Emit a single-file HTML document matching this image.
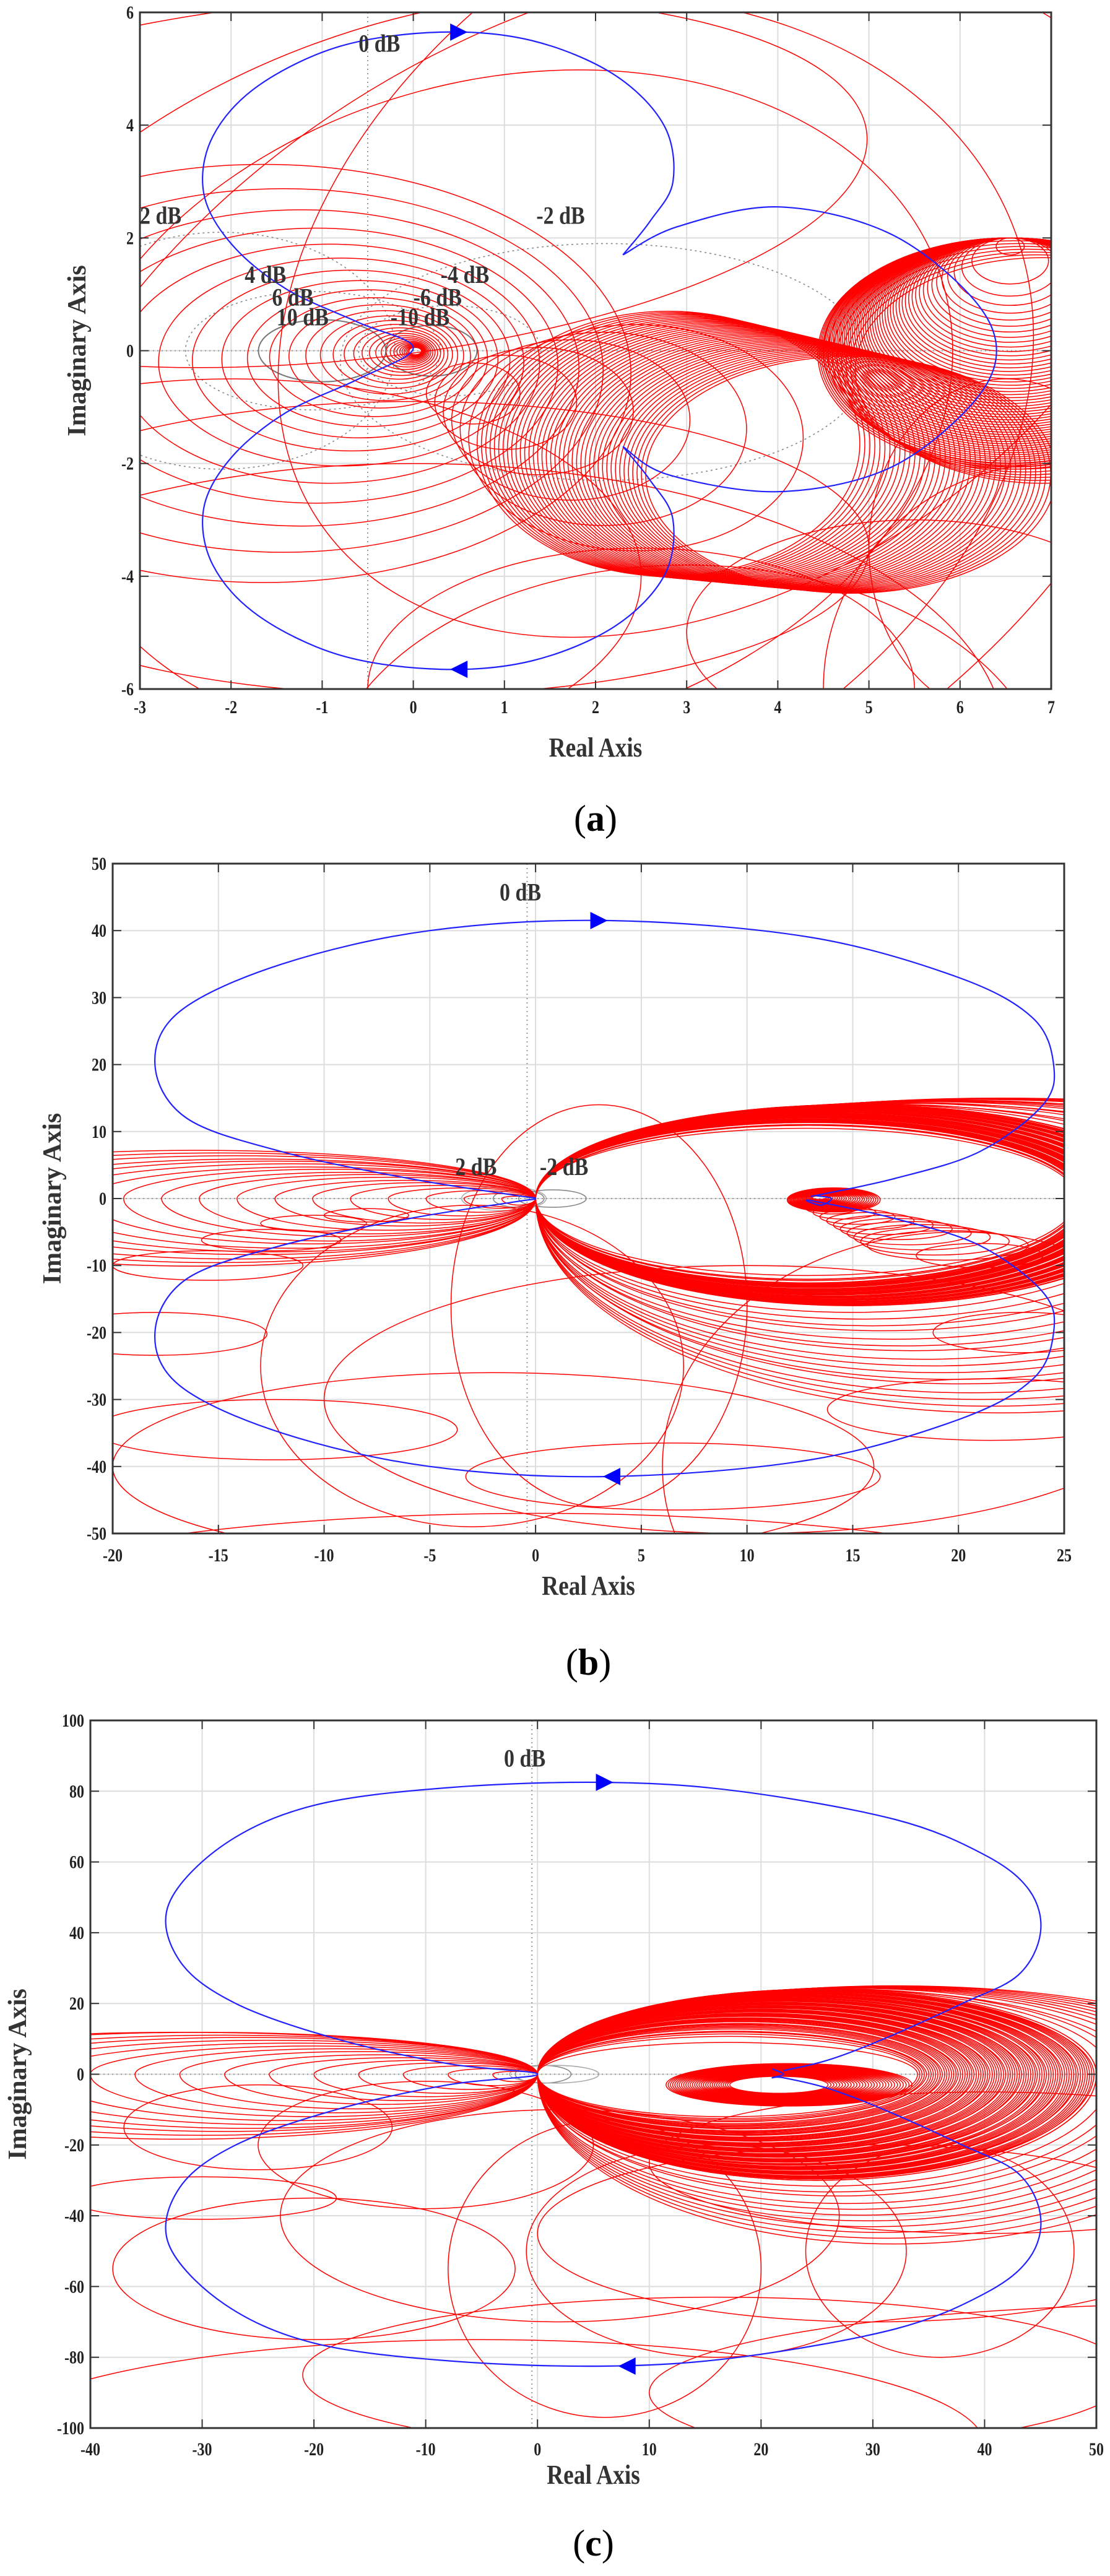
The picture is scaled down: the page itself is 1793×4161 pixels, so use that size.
<!DOCTYPE html>
<html><head><meta charset="utf-8">
<style>
html,body{margin:0;padding:0;background:#fff;}
svg{display:block;}
</style></head>
<body>
<svg id="s" xmlns="http://www.w3.org/2000/svg" width="1793" height="4161" viewBox="0 0 1793 4161"></svg>
<script>
const S=document.getElementById('s');
let out='';
function smooth(pts){
  let d='M'+pts[0][0].toFixed(1)+','+pts[0][1].toFixed(1);
  for(let i=0;i<pts.length-1;i++){
    const p0=pts[Math.max(0,i-1)],p1=pts[i],p2=pts[i+1],p3=pts[Math.min(pts.length-1,i+2)];
    const c1=[p1[0]+(p2[0]-p0[0])/6,p1[1]+(p2[1]-p0[1])/6];
    const c2=[p2[0]-(p3[0]-p1[0])/6,p2[1]-(p3[1]-p1[1])/6];
    d+=` C${c1[0].toFixed(1)},${c1[1].toFixed(1)} ${c2[0].toFixed(1)},${c2[1].toFixed(1)} ${p2[0].toFixed(1)},${p2[1].toFixed(1)}`;
  }
  return d;
}
function plot(P){
  const {L,R,T,B,x0,x1,y0,y1,id}=P;
  const X=x=>L+(x-x0)/(x1-x0)*(R-L);
  const Y=y=>B-(y-y0)/(y1-y0)*(B-T);
  const sx=(R-L)/(x1-x0), sy=(B-T)/(y1-y0);
  let g='';
  g+=`<clipPath id="c${id}"><rect x="${L}" y="${T}" width="${R-L}" height="${B-T}"/></clipPath>`;
  for(const v of P.xt){g+=`<line x1="${X(v)}" y1="${T}" x2="${X(v)}" y2="${B}" stroke="#ddd" stroke-width="2"/>`;}
  for(const v of P.yt){g+=`<line x1="${L}" y1="${Y(v)}" x2="${R}" y2="${Y(v)}" stroke="#ddd" stroke-width="2"/>`;}
  g+=`<line x1="${X(P.vx)}" y1="${T}" x2="${X(P.vx)}" y2="${B}" stroke="#999" stroke-width="2" stroke-dasharray="2,5"/>`;
  g+=`<line x1="${L}" y1="${Y(0)}" x2="${R}" y2="${Y(0)}" stroke="#999" stroke-width="2" stroke-dasharray="2,5"/>`;
  let c=`<g clip-path="url(#c${id})" fill="none">`;
  const E=(cx,cy,rx,ry,rot,col,w,dash)=>{c+=`<ellipse cx="${X(cx).toFixed(1)}" cy="${Y(cy).toFixed(1)}" rx="${Math.abs(rx*sx).toFixed(1)}" ry="${Math.abs(ry*sy).toFixed(1)}" transform="rotate(${rot||0} ${X(cx).toFixed(1)} ${Y(cy).toFixed(1)})" stroke="${col||'#f00'}" stroke-width="${w||1.5}" ${dash?'stroke-dasharray="'+dash+'"':''}/>`;};
  const EGG=(ox,oy,dir,rx,rt,rb,w)=>{const a=X(ox),b=Y(oy),e=X(ox+2*dir*rx);const RX=Math.abs(rx*sx);
    const sw1=dir>0?1:0;
    c+=`<path d="M${a.toFixed(1)},${b.toFixed(1)} A${RX.toFixed(1)},${(rt*sy).toFixed(1)} 0 0 ${sw1} ${e.toFixed(1)},${b.toFixed(1)} A${RX.toFixed(1)},${(rb*sy).toFixed(1)} 0 0 ${sw1} ${a.toFixed(1)},${b.toFixed(1)}" stroke="#f00" stroke-width="${w||1.5}"/>`;};
  const PATH=(pts,col,w)=>{c+=`<path d="${smooth(pts.map(p=>[X(p[0]),Y(p[1])]))}" stroke="${col}" stroke-width="${w}" fill="none"/>`;};
  P.draw(E,PATH,EGG);
  c+='</g>';
  g+=c;
  g+=`<rect x="${L}" y="${T}" width="${R-L}" height="${B-T}" fill="none" stroke="#333" stroke-width="3"/>`;
  for(const v of P.xt){g+=`<line x1="${X(v)}" y1="${B}" x2="${X(v)}" y2="${B-14}" stroke="#333" stroke-width="2"/><line x1="${X(v)}" y1="${T}" x2="${X(v)}" y2="${T+14}" stroke="#333" stroke-width="2"/>`;
    g+=`<text x="${X(v)}" y="${P.xty}" text-anchor="middle" font-family="Liberation Serif,serif" font-weight="bold" font-size="30" fill="#222" transform="translate(${X(v)} 0) scale(0.8 1) translate(${-X(v)} 0)">${v}</text>`;}
  for(const v of P.yt){g+=`<line x1="${L}" y1="${Y(v)}" x2="${L+14}" y2="${Y(v)}" stroke="#333" stroke-width="2"/><line x1="${R}" y1="${Y(v)}" x2="${R-14}" y2="${Y(v)}" stroke="#333" stroke-width="2"/>`;
    g+=`<text x="${L-10}" y="${Y(v)+10}" text-anchor="end" font-family="Liberation Serif,serif" font-weight="bold" font-size="30" fill="#222" transform="translate(${L-10} 0) scale(0.8 1) translate(${-(L-10)} 0)">${v}</text>`;}
  g+=`<text x="${(L+R)/2}" y="${P.xly}" text-anchor="middle" font-family="Liberation Serif,serif" font-weight="bold" font-size="44" fill="#333" transform="translate(${(L+R)/2} 0) scale(0.85 1) translate(${-(L+R)/2} 0)">Real Axis</text>`;
  g+=`<text x="0" y="0" text-anchor="middle" font-family="Liberation Serif,serif" font-weight="bold" font-size="42" fill="#333" transform="translate(${P.ylx} ${(T+B)/2}) rotate(-90)">Imaginary Axis</text>`;
  g+=`<text x="${(L+R)/2}" y="${P.capy}" text-anchor="middle" font-family="Liberation Serif,serif" font-size="60" fill="#000">(<tspan font-weight="bold">${P.cap}</tspan>)</text>`;
  for(const t of (P.labels||[])){g+=`<text x="${X(t[1])}" y="${Y(t[2])}" font-family="Liberation Serif,serif" font-weight="bold" font-size="${t[3]||40}" fill="#333" transform="translate(${X(t[1])} 0) scale(0.85 1) translate(${-X(t[1])} 0)">${t[0]}</text>`;}
  for(const a of P.arrows){const px=X(a[0]),py=Y(a[1]);const d=a[2]*28;g+=`<polygon points="${px+d/2},${py} ${px-d/2},${py-14} ${px-d/2},${py+14}" fill="#00f"/>`;}
  out+=g;
}
function lerp(a,b,t){return a+(b-a)*t;}
// ---------- Plot a
plot({id:'a',L:226,R:1698,T:20,B:1113,x0:-3,x1:7,y0:-6,y1:6,vx:-0.5,
 xt:[-3,-2,-1,0,1,2,3,4,5,6,7],yt:[-6,-4,-2,0,2,4,6],xty:1152,xly:1222,ylx:138,capy:1342,cap:'a',
 arrows:[[0.5,5.65,1],[0.5,-5.65,-1]],
 labels:[['0 dB',-0.6,5.3],['2 dB',-3,2.25],['-2 dB',1.35,2.25],['4 dB',-1.85,1.2],['-4 dB',0.3,1.2],['6 dB',-1.55,0.8],['-6 dB',0.0,0.8],['10 dB',-1.5,0.45],['-10 dB',-0.25,0.45]],
 draw(E,PATH,EGG){
  E(-2.1,0,1.9,2.1,0,'#888',1.6,'3,5');E(2.1,-0.2,2.9,2.1,0,'#888',1.6,'3,5');
  E(-1.1,0,1.4,1.05,0,'#888',1.6,'3,5');E(0.4,0,1.0,0.8,0,'#888',1.6,'3,5');
  E(-1.0,0,0.7,0.55,0,'#777',2);E(0.2,0,0.5,0.45,0,'#777',2);
  for(let k=0;k<30;k++){const r=0.07*Math.pow(1.15,k);E(0.05-0.42*r,-0.1*r,r,r*0.92,0);}
  for(let k=0;k<6;k++){const t=(k+1)/7;E(lerp(0.3,2.8,t),lerp(-0.6,-1.7,t),lerp(0.25,2.1,t),lerp(0.25,2.3,t),0);}
  for(let k=0;k<40;k++){const t=k/39;E(lerp(2.8,4.8,t),lerp(-1.65,-2.2,t),lerp(2.1,2.25,t),lerp(2.35,2.1,t),0);}
  for(let k=0;k<55;k++){const t=k/54;const r=lerp(0.15,2.05,Math.sqrt(t));E(6.55,2.0-r,r*1.03,r,0);}
  for(let k=0;k<8;k++){const t=k/7;E(6.55+0.05*k,-0.05*k,2.05,2.0,0);}
  E(0.5,-1.5,6.5,7.4,-20);E(1,-1,5,5.8,-15);E(2,-1.5,7,7.3,-30);E(3.5,2,5.5,6,-35);E(-2,-4,4.5,3.5,0);E(0,-7,6.5,5,0);
  E(2.5,-6,3,2.5,0);E(5.5,-5,2.5,2,0);E(-1,3,6,3.2,-5);E(0,-3.5,5,2.6,0);E(6.5,-3.5,1.5,3,0);E(3,-8,4,4.2,0);E(7,-6,2.5,4,0);
  const up=[[2.3,1.7],[2.6,2.3],[2.85,3.0],[2.75,4.0],[2.2,4.9],[1.3,5.5],[0.3,5.65],[-0.8,5.4],[-1.7,4.7],[-2.2,3.8],[-2.3,2.8],[-2.0,1.9],[-1.4,1.1],[-0.6,0.5],[0,0.05]];
  const low=up.slice().reverse().map(p=>[p[0],-p[1]]);
  PATH(up.concat(low.slice(1)),'#22f',2.2);
  PATH([[2.3,-1.7],[2.8,-2.2],[4.0,-2.5],[5.2,-2.1],[6.1,-1.0],[6.4,0],[6.1,1.0],[5.2,2.1],[4.0,2.55],[2.9,2.2],[2.3,1.7]],'#22f',2.2);
 }});
// ---------- Plot b
plot({id:'b',L:182,R:1719,T:1395,B:2477,x0:-20,x1:25,y0:-50,y1:50,vx:-0.4,
 xt:[-20,-15,-10,-5,0,5,10,15,20,25],yt:[-50,-40,-30,-20,-10,0,10,20,30,40,50],xty:2522,xly:2576,ylx:98,capy:2705,cap:'b',
 arrows:[[3,41.5,1],[3.6,-41.5,-1]],
 labels:[['0 dB',-1.7,44.5],['2 dB',-3.8,3.5],['-2 dB',0.2,3.5]],
 draw(E,PATH,EGG){
  E(-0.8,0,1.2,1.3,0,'#888',1.6);E(0.8,0,1.6,1.3,0,'#888',1.6);E(-1.5,0,2,1.8,0,'#aaa',1.5);
  for(let k=0;k<70;k++){const t=k/69;EGG(0,0,1,lerp(12.8,15,t),lerp(10.5,14,Math.sqrt(t)),lerp(11.5,16,Math.sqrt(t)));}
  for(let k=0;k<16;k++){const t=k/15;EGG(0,0,1,lerp(15,22,t),lerp(14,15,t),lerp(17,32,t));}
  for(let k=0;k<18;k++){const t=k/17;const r=lerp(0.8,16,t);EGG(0,0,-1,r,Math.min(r*0.45,8),r*0.6+0.5);}
  E(-15.5,-10,4.5,2.2,0);E(-12.5,-6.2,3.3,1.6,0);E(-10.5,-3.7,2.5,1.2,0);E(-8,-2.5,2,1,0);E(-18,-20.2,5.3,3.2,0);E(-12.3,-34.5,8.6,4.5,0);
  E(6.5,-41.5,9.8,5,0);E(21.5,-31.5,7.7,4.6,0);E(23,-20,4.2,3,0);E(21,-8.5,3,1.8,0);
  for(let k=0;k<10;k++){const t=k/9;E(lerp(14,19.5,t),lerp(-1.5,-7,t),lerp(1.2,3.8,t),lerp(0.8,2.2,t),0);}
  for(let k=0;k<25;k++){const t=k/24;const r=lerp(0.3,2,t);E(13.3+r*0.4,0.2-r*0.2,r*1.1,r*0.9,0);}
  E(-2,-40,18,14,0);E(-3,-25,10,24,0);E(3,-16,7,30,0);E(10,-30,20,20,0);E(20,-40,14,35,0);E(0,-65,30,18,0);
  const top=[[13,0.3],[17,3],[21,7],[24,14],[24.5,20],[23.5,27],[20,33],[13,39],[3.5,41.5],[-5,40],[-12,35],[-16.8,28],[-18,20],[-16.5,12],[-12,7],[-6,3],[-1,0.5],[0,0]];
  const bot=top.slice().reverse().map(p=>[p[0],-p[1]]);
  PATH(top.concat(bot.slice(1)).concat([[13.5,-1],[14,0],[13.3,0.4]]),'#22f',2.2);
 }});
// ---------- Plot c
plot({id:'c',L:146,R:1771,T:2779,B:3922,x0:-40,x1:50,y0:-100,y1:100,vx:-0.5,
 xt:[-40,-30,-20,-10,0,10,20,30,40,50],yt:[-100,-80,-60,-40,-20,0,20,40,60,80,100],xty:3966,xly:4012,ylx:42,capy:4128,cap:'c',
 arrows:[[6,82.5,1],[8,-82.5,-1]],
 labels:[['0 dB',-3,87]],
 draw(E,PATH,EGG){
  E(0.5,0,2.5,2.5,0,'#888',1.6);E(1.5,0,4,2.5,0,'#aaa',1.6);
  for(let k=0;k<80;k++){const t=k/79;EGG(0,0,1,lerp(17,25,t),lerp(9,24,Math.sqrt(t)),lerp(12,30,Math.pow(t,0.8)));}
  for(let k=0;k<12;k++){const t=k/11;EGG(0,0,1,lerp(25,32,t),lerp(24,25,t),lerp(30,48,t));}
  for(let k=0;k<30;k++){const t=k/29;const r=lerp(4,10,t);E(21+r*0.15,-3,r*1.1,r*0.6,0);}
  for(let k=0;k<16;k++){const t=k/15;const r=lerp(2,32,t);EGG(0,0,-1,r,Math.min(r*0.4,12),r*0.55+1);}
  E(-30,-35,12,6,0);E(-25,-15,12,12,0);E(-20,-55,18,20,0);E(-10,-20,15,18,0);E(2,-40,25,30,0);
  E(16,-85,37,22,0);E(36,-50,12,30,0);E(40,-25,30,20,0);E(30,-45,30,25,0);E(-5,-105,45,30,0);E(60,-90,50,25,0);
  E(6,-55,14,42,0);E(16,-50,17,30,0);
  const top=[[22,1],[26,4],[31,10],[38,20],[43,28],[45,40],[44,52],[40,62],[32,72],[18,80],[6,82.5],[-8,81],[-20,76],[-28,65],[-33,48],[-32,32],[-27,20],[-18,10],[-8,3],[0,0]];
  const bot=top.slice().reverse().map(p=>[p[0],-p[1]]);
  PATH(top.concat(bot.slice(1)).concat([[21,-1],[22,0],[21,1.5]]),'#22f',2.2);
 }});
S.innerHTML=out;
</script>
</body></html>
